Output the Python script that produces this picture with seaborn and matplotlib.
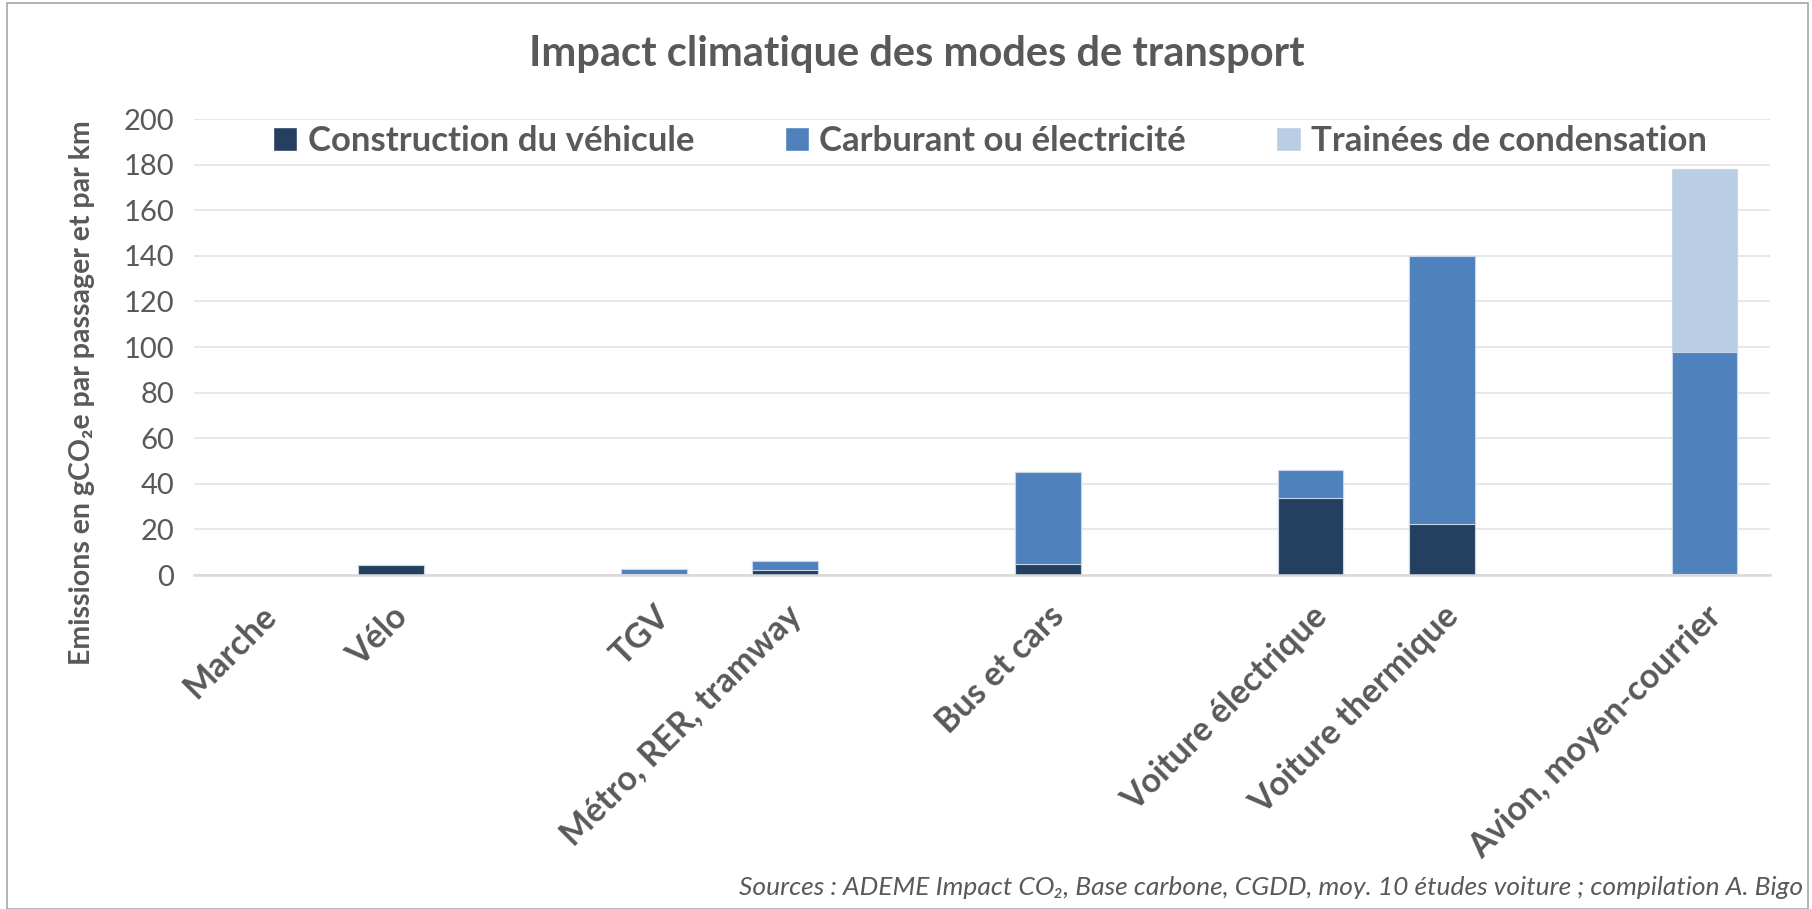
import pandas as pd
import seaborn as sns
import matplotlib.pyplot as plt
from matplotlib.patches import Patch, Rectangle

modes = ["Marche", "Vélo", "TGV", "Métro, RER, tramway", "Bus et cars",
         "Voiture électrique", "Voiture thermique", "Avion, moyen-courrier"]
construction = [0, 4.5, 0.5, 2, 5, 34, 22.5, 0.5]
carburant = [0, 0, 2, 4, 40, 12, 117.5, 97.5]
trainees = [0, 0, 0, 0, 0, 0, 0, 80]
series_names = ["Construction du véhicule", "Carburant ou électricité", "Trainées de condensation"]
# empty slots between the groups of modes
order = ["Marche", "Vélo", " ", "TGV", "Métro, RER, tramway", "  ", "Bus et cars", "   ",
         "Voiture électrique", "Voiture thermique", "    ", "Avion, moyen-courrier"]

colors = ["#243F60", "#4F81BD", "#B9CDE5"]
grey = "#595959"

df = pd.DataFrame({"mode": modes, "c1": construction, "c2": carburant, "c3": trainees})
df["s1"] = df["c1"]
df["s2"] = df["c1"] + df["c2"]
df["s3"] = df["s2"] + df["c3"]

sns.set_style("white")
plt.rcParams['font.family'] = ['Lato', 'DejaVu Sans']

fig = plt.figure(figsize=(18.12, 9.09), dpi=100)
ax = fig.add_axes([0.107, 0.3674, 0.870, 0.5016])

# stacked bars drawn as overlapping cumulative totals
for col, c in zip(["s3", "s2", "s1"], colors[::-1]):
    sns.barplot(data=df, x="mode", y=col, order=order, color=c, width=0.5, saturation=1,
                edgecolor="#C9D6EA", linewidth=0.8, ax=ax)

ax.set_ylim(0, 200)
ax.set_yticks(range(0, 201, 20))
ax.yaxis.grid(True, color="#E6E6E6", linewidth=1.3)
ax.set_axisbelow(True)
for s in ["top", "right", "left"]:
    ax.spines[s].set_visible(False)
ax.spines["bottom"].set_color("#D9D9D9")
ax.spines["bottom"].set_linewidth(1.8)
ax.tick_params(axis="both", length=0, colors=grey)
ax.tick_params(axis="y", labelsize=21, pad=14)
ax.tick_params(axis="x", pad=18)
ax.set_xlabel("")
for lab in ax.get_yticklabels():
    lab.set_color(grey)
ax.set_xticks(range(len(order)))
ax.set_xticklabels(order, rotation=45, ha="right", rotation_mode="anchor",
                   fontsize=24.5, fontweight="bold", color=grey)

ax.set_ylabel("Emissions en gCO₂e par passager et par km",
              fontsize=20.5, fontweight="bold", color=grey)
ax.yaxis.set_label_coords(-0.0625, 0.40)

handles = [Patch(facecolor=c) for c in colors]
ax.legend(handles, series_names, loc="center", bbox_to_anchor=(0.505, 0.952), ncol=3,
          frameon=False, handlelength=0.7, handleheight=0.7,
          handletextpad=0.3, columnspacing=2.6, prop={"weight": "bold", "size": 25},
          labelcolor=grey)

fig.text(0.506, 0.941, "Impact climatique des modes de transport", ha="center", va="center",
         fontsize=30, fontweight="bold", color=grey)
fig.text(0.995, 0.024, "Sources : ADEME Impact CO₂, Base carbone, CGDD, moy. 10 études voiture ; compilation A. Bigo",
         ha="right", va="center", fontsize=19, style="italic", color=grey)

fig.patches.append(Rectangle((0.004, 0.0), 0.994, 0.997, transform=fig.transFigure,
                             fill=False, edgecolor="#A6A6A6", linewidth=1.2))

fig.savefig("out.png", dpi=100)
